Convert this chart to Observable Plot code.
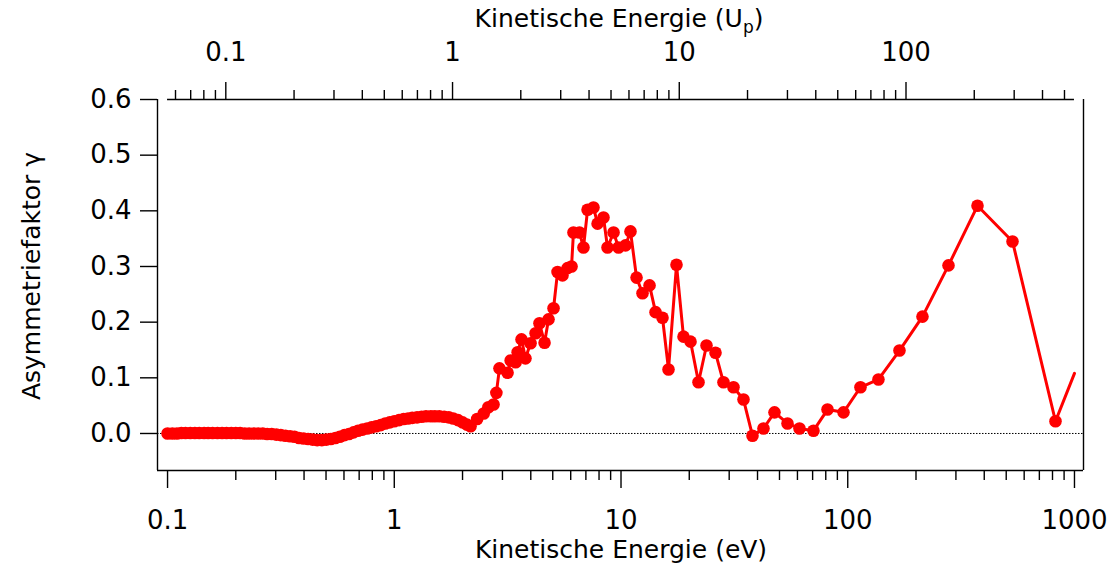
<!DOCTYPE html>
<html>
<head>
<meta charset="utf-8">
<script src="https://cdn.jsdelivr.net/npm/d3@7"></script>
<script src="https://cdn.jsdelivr.net/npm/@observablehq/plot@0.6"></script>
<style>
  html, body { margin: 0; padding: 0; background: white; }
  #chart { width: 1117px; height: 570px; }
</style>
</head>
<body>
<div id="chart"></div>
<script>
// Kinetic energy (eV) of each measured point
const energyEV = [
  0.100, 0.105, 0.110, 0.115, 0.120, 0.126, 0.132, 0.138, 0.145, 0.151,
  0.158, 0.166, 0.174, 0.182, 0.191, 0.200, 0.209, 0.219, 0.229, 0.240,
  0.251, 0.263, 0.275, 0.288, 0.302, 0.316, 0.331, 0.347, 0.363, 0.380,
  0.398, 0.417, 0.437, 0.457, 0.479, 0.501, 0.525, 0.550, 0.575, 0.603,
  0.631, 0.661, 0.692, 0.724, 0.759, 0.794, 0.832, 0.871, 0.912, 0.955,
  1.00, 1.05, 1.10, 1.15, 1.20, 1.26, 1.32, 1.38, 1.45, 1.51,
  1.58, 1.66, 1.74, 1.82, 1.91, 2.00, 2.09, 2.17,
  2.32, 2.48, 2.60, 2.74, 2.82, 2.91, 3.16, 3.26, 3.43, 3.50,
  3.64, 3.79, 3.99, 4.20, 4.37, 4.60, 4.79, 5.04, 5.25, 5.52,
  5.81, 6.05, 6.17, 6.56, 6.83, 7.12, 7.56, 7.88, 8.37, 8.72,
  9.27, 9.75, 10.47, 11.01, 11.71, 12.44, 13.36, 14.20, 15.24, 16.20,
  17.57, 18.86, 20.26, 21.97, 23.83, 26.11, 28.31, 31.34, 34.69, 38.01,
  42.50, 47.53, 54.24, 61.26, 70.61, 81.42, 95.79, 113.8, 136.6, 169.1,
  213.6, 278.2, 373.5, 533.0, 824.7
];
// Asymmetry factor gamma of each measured point
const gamma = [
  0.000, 0.000, 0.000, 0.001, 0.001, 0.001, 0.001, 0.001, 0.001, 0.001,
  0.001, 0.001, 0.001, 0.001, 0.001, 0.001, 0.001, 0.000, 0.000, 0.000,
  0.000, 0.000, -0.001, -0.001, -0.002, -0.003, -0.004, -0.005, -0.006, -0.008,
  -0.009, -0.010, -0.011, -0.012, -0.012, -0.011, -0.010, -0.008, -0.006, -0.003,
  -0.001, 0.002, 0.005, 0.007, 0.009, 0.011, 0.013, 0.015, 0.018, 0.020,
  0.022, 0.024, 0.026, 0.027, 0.028, 0.029, 0.030, 0.031, 0.031, 0.031,
  0.031, 0.030, 0.029, 0.027, 0.024, 0.020, 0.016, 0.013,
  0.026, 0.036, 0.047, 0.052, 0.073, 0.117, 0.109, 0.131, 0.128, 0.146,
  0.169, 0.135, 0.162, 0.180, 0.198, 0.163, 0.205, 0.225, 0.290, 0.284,
  0.297, 0.300, 0.361, 0.361, 0.334, 0.402, 0.406, 0.377, 0.388, 0.334,
  0.361, 0.334, 0.338, 0.363, 0.280, 0.252, 0.266, 0.218, 0.208, 0.115,
  0.303, 0.174, 0.165, 0.092, 0.158, 0.145, 0.092, 0.083, 0.061, -0.004,
  0.009, 0.038, 0.018, 0.009, 0.005, 0.043, 0.038, 0.083, 0.097, 0.149,
  0.210, 0.302, 0.409, 0.345, 0.022
];
// The connecting line continues to the axis end without a marker
const tailEV = [1000];
const tailGamma = [0.108];

// Axis ticks
const yTicks = [0.0, 0.1, 0.2, 0.3, 0.4, 0.5, 0.6];
const evMajor = [0.1, 1, 10, 100, 1000];
const evMinorFactors = [2, 3, 4, 5, 6, 7, 8, 9];
const upMajor = [0.1, 1, 10, 100];
const upMinor = [0.06, 0.07, 0.08, 0.09,
  0.2, 0.3, 0.4, 0.5, 0.6, 0.7, 0.8, 0.9,
  2, 3, 4, 5, 6, 7, 8, 9,
  20, 30, 40, 50, 60, 70, 80, 90,
  200, 300, 400, 500];
const UP_EV = 1.807; // 1 Up in eV

const xDomain = [0.0903, 1096];
const yDomain = [-0.0665, 0.6];

const rows = energyEV.map((e, i) => ({e, g: gamma[i]}));
const lineRows = rows.concat(tailEV.map((e, i) => ({e, g: tailGamma[i]})));
const evMinor = [];
for (const m of [0.1, 1, 10, 100]) for (const f of evMinorFactors) evMinor.push(+(m * f).toPrecision(3));

const fontFam = "DejaVu Sans, sans-serif";
const lw = 1.4;
const tickFont = 26;
const titleFont = 25;

const chart = Plot.plot({
  width: 1117,
  height: 570,
  marginLeft: 157,
  marginRight: 34,
  marginTop: 99,
  marginBottom: 100,
  style: {fontFamily: fontFam, fontSize: tickFont + "px", background: "white", color: "black"},
  x: {type: "log", domain: xDomain},
  y: {domain: yDomain},
  marks: [
    Plot.ruleY([0], {stroke: "black", strokeWidth: 1, strokeDasharray: "1.5,1.5"}),
    Plot.line(lineRows, {x: "e", y: "g", stroke: "#ff0000", strokeWidth: 3}),
    Plot.dot(rows, {x: "e", y: "g", r: 6.3, fill: "#ff0000"}),
    Plot.ruleX([xDomain[0]], {stroke: "black", strokeWidth: lw}),
    Plot.ruleX([xDomain[1]], {stroke: "black", strokeWidth: lw}),
    Plot.ruleY([yDomain[0]], {stroke: "black", strokeWidth: lw}),
    Plot.ruleY([0.6], {x1: 0.1, x2: 1000, stroke: "black", strokeWidth: lw}),
    Plot.axisY({ticks: yTicks, tickSize: 17, tickPadding: 9, strokeWidth: lw,
      tickFormat: d3.format(".1f"), label: null, fontSize: tickFont}),
    Plot.axisX({anchor: "bottom", ticks: evMinor, tickSize: 10, strokeWidth: lw,
      tickFormat: () => "", label: null}),
    Plot.axisX({anchor: "bottom", ticks: evMajor, tickSize: 18, tickPadding: 22, strokeWidth: lw,
      tickFormat: d => String(d), label: null, fontSize: tickFont}),
    Plot.axisX({anchor: "top", ticks: upMinor.map(u => u * UP_EV), tickSize: 10, strokeWidth: lw,
      tickFormat: () => "", label: null}),
    Plot.axisX({anchor: "top", ticks: upMajor.map(u => u * UP_EV), tickSize: 18, tickPadding: 21, strokeWidth: lw,
      tickFormat: d => String(+(d / UP_EV).toPrecision(3)), label: null, fontSize: tickFont})
  ]
});

document.getElementById("chart").appendChild(chart);

const svgSel = d3.select(chart);
svgSel.append("text")
  .attr("x", 621).attr("y", 558)
  .attr("text-anchor", "middle")
  .attr("font-family", fontFam).attr("font-size", titleFont).attr("fill", "black")
  .text("Kinetische Energie (eV)");

const topTitle = svgSel.append("text")
  .attr("x", 619).attr("y", 27)
  .attr("text-anchor", "middle")
  .attr("font-family", fontFam).attr("font-size", titleFont).attr("fill", "black");
topTitle.append("tspan").text("Kinetische Energie (U");
topTitle.append("tspan").attr("font-size", 17).attr("dy", 6).text("p");
topTitle.append("tspan").attr("dy", -6).text(")");

svgSel.append("text")
  .attr("transform", "translate(40,276) rotate(-90)")
  .attr("text-anchor", "middle")
  .attr("font-family", fontFam).attr("font-size", titleFont).attr("fill", "black")
  .text("Asymmetriefaktor γ");
</script>
</body>
</html>
